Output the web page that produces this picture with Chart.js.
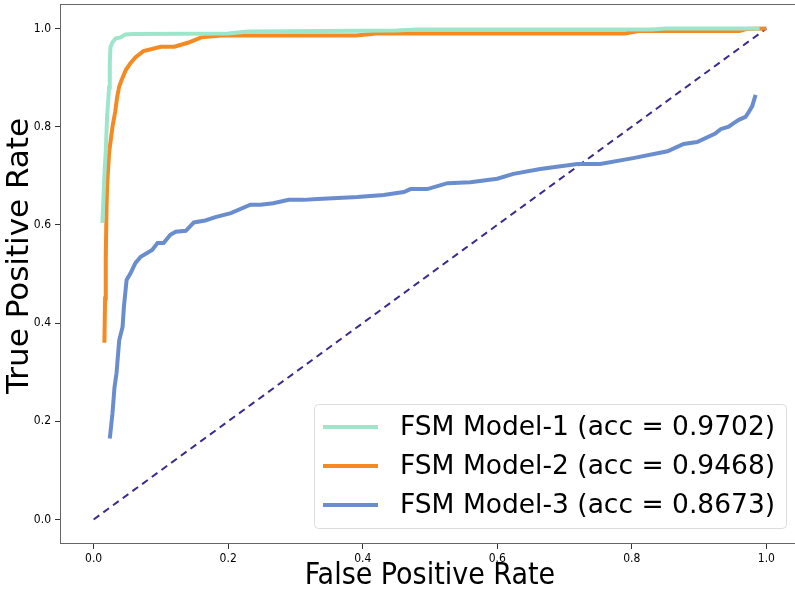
<!DOCTYPE html>
<html>
<head>
<meta charset="utf-8">
<script src="https://cdn.jsdelivr.net/npm/chart.js@4/dist/chart.umd.min.js"></script>
<style>
  html, body { margin: 0; padding: 0; background: #fff; overflow: hidden; }
  #wrap { width: 795px; height: 591px; overflow: hidden; }
</style>
</head>
<body>
<div id="wrap"><canvas id="roc" width="800" height="591"></canvas></div>
<script>
// ROC curves
const model1Fpr = [0.013, 0.016, 0.018, 0.020, 0.023, 0.024, 0.025, 0.028, 0.033, 0.040, 0.047, 0.060, 0.20, 0.23, 0.45, 0.48, 0.83, 0.85, 0.99];
const model1Tpr = [0.604, 0.700, 0.750, 0.820, 0.880, 0.930, 0.962, 0.972, 0.980, 0.982, 0.988, 0.989, 0.990, 0.994, 0.996, 0.998, 0.998, 1.0, 1.0];

const model2Fpr = [0.016, 0.017, 0.018, 0.019, 0.020, 0.023, 0.028, 0.032, 0.035, 0.038, 0.043, 0.048, 0.055, 0.062, 0.074, 0.10, 0.12, 0.14, 0.16, 0.19, 0.39, 0.42, 0.79, 0.81, 0.96, 0.97, 1.0];
const model2Tpr = [0.36, 0.45, 0.53, 0.62, 0.68, 0.747, 0.80, 0.83, 0.861, 0.882, 0.90, 0.916, 0.93, 0.941, 0.954, 0.963, 0.963, 0.971, 0.982, 0.986, 0.986, 0.99, 0.99, 0.995, 0.995, 0.999, 1.0];

const model3Fpr = [0.024, 0.028, 0.031, 0.034, 0.038, 0.043, 0.045, 0.049, 0.055, 0.062, 0.070, 0.087, 0.095, 0.104, 0.114, 0.122, 0.137, 0.149, 0.166, 0.181, 0.204, 0.233, 0.248, 0.267, 0.290, 0.312, 0.333, 0.392, 0.431, 0.461, 0.471, 0.496, 0.526, 0.560, 0.600, 0.624, 0.664, 0.719, 0.753, 0.802, 0.853, 0.877, 0.897, 0.924, 0.932, 0.944, 0.951, 0.959, 0.969, 0.973, 0.979, 0.984];
const model3Tpr = [0.165, 0.216, 0.269, 0.298, 0.365, 0.392, 0.433, 0.488, 0.502, 0.522, 0.535, 0.549, 0.563, 0.563, 0.580, 0.586, 0.588, 0.605, 0.609, 0.616, 0.624, 0.641, 0.641, 0.644, 0.651, 0.651, 0.653, 0.657, 0.661, 0.667, 0.673, 0.673, 0.685, 0.687, 0.694, 0.704, 0.714, 0.724, 0.724, 0.736, 0.750, 0.765, 0.769, 0.786, 0.795, 0.800, 0.807, 0.814, 0.820, 0.828, 0.842, 0.865];

const chanceFpr = [0, 1];
const chanceTpr = [0, 1];

const seriesLabels = ['FSM Model-1 (acc = 0.9702)', 'FSM Model-2 (acc = 0.9468)', 'FSM Model-3 (acc = 0.8673)'];
const seriesColors = ['#9de5cb', '#f58a22', '#6a8dcd'];
const tickValues = [0.0, 0.2, 0.4, 0.6, 0.8, 1.0];
const xTitle = 'False Positive Rate';
const yTitle = 'True Positive Rate';

const toPoints = (xs, ys) => xs.map((x, i) => ({ x: x, y: ys[i] }));

// frame + legend + y title, drawn by hand so they sit where matplotlib put them
const extras = {
  id: 'extras',
  afterDraw(chart) {
    const ctx = chart.ctx;
    const a = chart.chartArea;
    ctx.save();
    // spines
    ctx.strokeStyle = '#666';
    ctx.lineWidth = 1;
    ctx.strokeRect(a.left + 0.5, a.top + 0.5, a.right - a.left - 1, a.bottom - a.top - 1);

    // y title
    ctx.fillStyle = '#000';
    ctx.font = '31px "DejaVu Sans"';
    ctx.textAlign = 'center';
    ctx.textBaseline = 'middle';
    ctx.translate(20, 256);
    ctx.rotate(-Math.PI / 2);
    ctx.fillText(yTitle, 0, 0);
    ctx.restore();

    // legend box
    ctx.save();
    const bx = 314, by = 404, bw = 472, bh = 124;
    ctx.beginPath();
    ctx.roundRect(bx + 0.5, by + 0.5, bw, bh, 4);
    ctx.fillStyle = 'rgba(255,255,255,0.85)';
    ctx.fill();
    ctx.strokeStyle = '#dcdcdc';
    ctx.lineWidth = 1;
    ctx.stroke();
    ctx.font = '26.5px "DejaVu Sans"';
    ctx.textAlign = 'left';
    ctx.textBaseline = 'middle';
    seriesLabels.forEach((lab, i) => {
      const cy = by + 23 + i * 39;
      ctx.strokeStyle = seriesColors[i];
      ctx.lineWidth = 4;
      ctx.beginPath();
      ctx.moveTo(bx + 9, cy);
      ctx.lineTo(bx + 64, cy);
      ctx.stroke();
      ctx.fillStyle = '#000';
      ctx.fillText(lab, bx + 86, cy + 1);
    });
    ctx.restore();
  }
};

const ctx = document.getElementById('roc').getContext('2d');
new Chart(ctx, {
  type: 'scatter',
  data: {
    datasets: [
      { label: seriesLabels[0], data: toPoints(model1Fpr, model1Tpr), borderColor: seriesColors[0], borderWidth: 4, showLine: true, pointRadius: 0, tension: 0 },
      { label: seriesLabels[1], data: toPoints(model2Fpr, model2Tpr), borderColor: seriesColors[1], borderWidth: 4, showLine: true, pointRadius: 0, tension: 0 },
      { label: seriesLabels[2], data: toPoints(model3Fpr, model3Tpr), borderColor: seriesColors[2], borderWidth: 4, showLine: true, pointRadius: 0, tension: 0 },
      { label: 'chance', data: toPoints(chanceFpr, chanceTpr), borderColor: '#3b2b8c', borderWidth: 2, borderDash: [7, 5], showLine: true, pointRadius: 0 }
    ]
  },
  options: {
    responsive: false,
    animation: false,
    layout: { padding: { top: 4, right: 0, left: 0, bottom: 0 } },
    plugins: { legend: { display: false }, tooltip: { enabled: false } },
    scales: {
      x: {
        type: 'linear',
        min: -0.05,
        max: 1.05,
        afterBuildTicks: s => { s.ticks = tickValues.map(v => ({ value: v })); },
        afterFit: s => { s.height = 47; s.paddingLeft = 0; s.paddingRight = 0; },
        grid: { drawOnChartArea: false, drawTicks: true, tickLength: 5, color: '#333' },
        border: { display: false },
        ticks: { color: '#000', padding: 3, maxRotation: 0, font: { family: '"DejaVu Sans Condensed", "DejaVu Sans"', size: 12 }, callback: v => v.toFixed(1) },
        title: { display: true, text: xTitle, color: '#000', padding: 0, font: { family: '"DejaVu Sans Condensed", "DejaVu Sans"', size: 30, lineHeight: 1.0 } }
      },
      y: {
        type: 'linear',
        min: -0.05,
        max: 1.05,
        afterBuildTicks: s => { s.ticks = tickValues.map(v => ({ value: v })); },
        afterFit: s => { s.width = 60; s.paddingTop = 0; s.paddingBottom = 0; },
        grid: { drawOnChartArea: false, drawTicks: true, tickLength: 5, color: '#333' },
        border: { display: false },
        ticks: { color: '#000', padding: 4, font: { family: '"DejaVu Sans Condensed", "DejaVu Sans"', size: 12 }, callback: v => v.toFixed(1) }
      }
    }
  },
  plugins: [extras]
});
</script>
</body>
</html>
